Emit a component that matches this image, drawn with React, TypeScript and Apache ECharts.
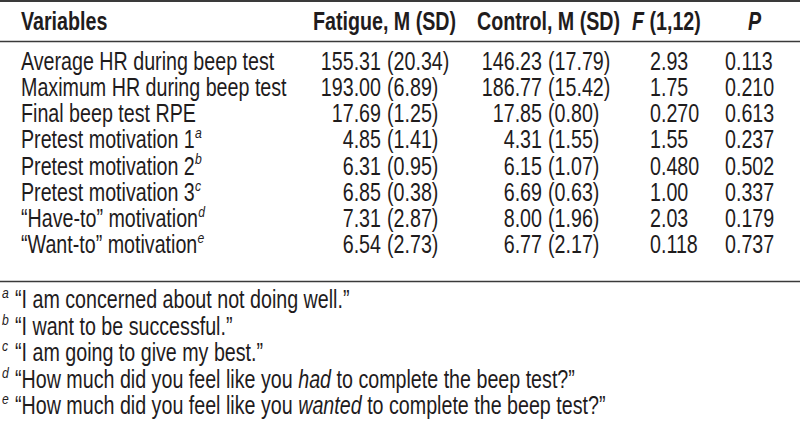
import React, { useEffect, useRef } from "react";
import * as echarts from "echarts";

const headers = ["Variables", "Fatigue, M (SD)", "Control, M (SD)", "F", "(1,12)", "P"];
const variables = [
  "Average HR during beep test",
  "Maximum HR during beep test",
  "Final beep test RPE",
  "Pretest motivation 1",
  "Pretest motivation 2",
  "Pretest motivation 3",
  "\u201CHave-to\u201D motivation",
  "\u201CWant-to\u201D motivation",
];
const varSup = ["", "", "", "a", "b", "c", "d", "e"];
const fatigueMean = ["155.31", "193.00", "17.69", "4.85", "6.31", "6.85", "7.31", "6.54"];
const fatigueSD = ["20.34", "6.89", "1.25", "1.41", "0.95", "0.38", "2.87", "2.73"];
const controlMean = ["146.23", "186.77", "17.85", "4.31", "6.15", "6.69", "8.00", "6.77"];
const controlSD = ["17.79", "15.42", "0.80", "1.55", "1.07", "0.63", "1.96", "2.17"];
const fStat = ["2.93", "1.75", "0.270", "1.55", "0.480", "1.00", "2.03", "0.118"];
const pVal = ["0.113", "0.210", "0.613", "0.237", "0.502", "0.337", "0.179", "0.737"];

const noteLetters = ["a", "b", "c", "d", "e"];
const notes = [
  [{ t: "\u201CI am concerned about not doing well.\u201D" }],
  [{ t: "\u201CI want to be successful.\u201D" }],
  [{ t: "\u201CI am going to give my best.\u201D" }],
  [{ t: "\u201CHow much did you feel like you " }, { t: "had", i: true }, { t: " to complete the beep test?\u201D" }],
  [{ t: "\u201CHow much did you feel like you " }, { t: "wanted", i: true }, { t: " to complete the beep test?\u201D" }],
];

const FAMILY = "'Liberation Sans', Arial, Helvetica, sans-serif";
const COLOR = "#1f1c1d";
const FS = 25;
const SUP = 15.5;
const SX = 0.787;

type Seg = { t: string; i?: boolean; b?: boolean; sup?: boolean };

let ctx: CanvasRenderingContext2D | null = null;
function measure(s: Seg) {
  if (!ctx) ctx = document.createElement("canvas").getContext("2d");
  const size = s.sup ? SUP : FS;
  ctx!.font = `${s.i ? "italic " : ""}${s.b ? "bold " : ""}${size}px ${FAMILY}`;
  return ctx!.measureText(s.t).width * SX;
}

function textEl(s: Seg, x: number, y: number, align = "left") {
  return {
    type: "text",
    x,
    y: s.sup ? y - 7.5 : y,
    scaleX: SX,
    silent: true,
    style: {
      text: s.t,
      fill: COLOR,
      fontFamily: FAMILY,
      fontSize: s.sup ? SUP : FS,
      fontWeight: s.b ? "bold" : "normal",
      fontStyle: s.i ? "italic" : "normal",
      align,
      verticalAlign: "middle",
    },
  };
}

function segs(list: Seg[], x: number, y: number) {
  const out: any[] = [];
  let cx = x;
  for (const s of list) {
    out.push(textEl(s, cx, y));
    cx += measure(s) + (s.sup ? 1 : 0);
  }
  return out;
}

export default function App() {
  const ref = useRef<HTMLDivElement>(null);
  useEffect(() => {
    if (!ref.current) return;
    const chart = echarts.init(ref.current, null, { renderer: "svg" });
    const els: any[] = [];
    const W = 800;
    const line = (y: number, w: number) => ({
      type: "line",
      silent: true,
      shape: { x1: 0, y1: y, x2: W, y2: y },
      style: { stroke: "#3a3a3a", lineWidth: w },
    });
    els.push(line(1, 2));
    els.push(line(41.5, 1.5));
    els.push(line(281.5, 1.5));

    const hy = 21.5;
    els.push(textEl({ t: headers[0], b: true }, 21, hy));
    els.push(textEl({ t: headers[1], b: true }, 313, hy));
    els.push(textEl({ t: headers[2], b: true }, 477, hy));
    els.push(...segs([{ t: headers[3], b: true, i: true }, { t: " " + headers[4], b: true }], 632, hy));
    els.push(textEl({ t: headers[5], b: true, i: true }, 748, hy));

    const y0 = 61.5;
    const dy = 26.2;
    variables.forEach((v, k) => {
      const y = y0 + k * dy;
      const list: Seg[] = [{ t: v }];
      if (varSup[k]) list.push({ t: varSup[k], i: true, sup: true });
      els.push(...segs(list, 21, y));
      els.push(textEl({ t: fatigueMean[k] }, 381, y, "right"));
      els.push(textEl({ t: "(" + fatigueSD[k] + ")" }, 387, y));
      els.push(textEl({ t: controlMean[k] }, 542, y, "right"));
      els.push(textEl({ t: "(" + controlSD[k] + ")" }, 548, y));
      els.push(textEl({ t: fStat[k] }, 650, y));
      els.push(textEl({ t: pVal[k] }, 725, y));
    });

    const ny0 = 300;
    const ndy = 26.5;
    notes.forEach((n, k) => {
      const y = ny0 + k * ndy;
      els.push(textEl({ t: noteLetters[k], i: true, sup: true }, 2, y));
      els.push(...segs(n as Seg[], 15, y));
    });

    chart.setOption({
      animation: false,
      backgroundColor: "#ffffff",
      graphic: { elements: els },
    });
    return () => chart.dispose();
  }, []);
  return (
    <div
      ref={ref}
      style={{ position: "fixed", left: 0, top: 0, width: 800, height: 431 }}
    />
  );
}
